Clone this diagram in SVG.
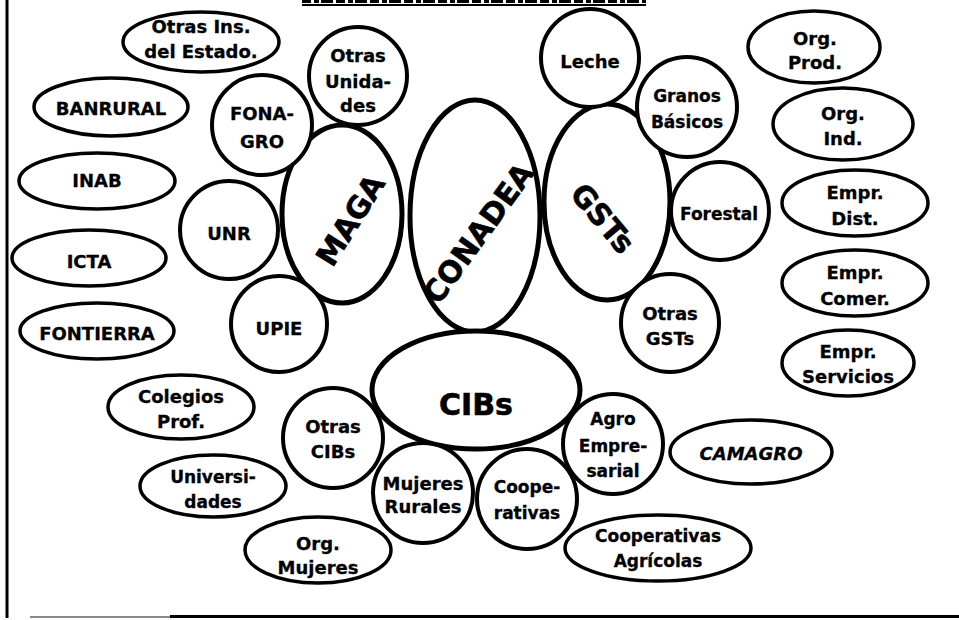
<svg xmlns="http://www.w3.org/2000/svg" width="959" height="620" viewBox="0 0 959 620">
<style>
.main{fill:#fff;stroke:#000;stroke-width:5}
.c{fill:#fff;stroke:#000;stroke-width:4}
.o{fill:#fff;stroke:#000;stroke-width:3.5}
text{font-family:"DejaVu Sans","Liberation Sans",sans-serif;font-weight:bold;fill:#000;text-anchor:middle;stroke:#000;stroke-width:0.3}
.t{font-size:18px}
.s{font-size:17px}
.big{font-size:30px;stroke-width:0.6}
</style>
<rect width="959" height="620" fill="#fff"/>
<g id="frame">
<line x1="7" y1="0" x2="7" y2="618" stroke="#000" stroke-width="3"/>
<line x1="30" y1="617" x2="170" y2="617" stroke="#888" stroke-width="2"/>
<line x1="170" y1="616.5" x2="959" y2="616.5" stroke="#000" stroke-width="3"/>
<line x1="302" y1="1.5" x2="646" y2="1.5" stroke="#000" stroke-width="3" stroke-dasharray="9 3 5 2 12 3"/>
<line x1="302" y1="5" x2="646" y2="5" stroke="#000" stroke-width="2"/>
</g>
<g id="connectors"/>
<g id="conadea"><ellipse class="main" cx="475" cy="216" rx="65" ry="116"/>
<text class="big" transform="translate(478,233) rotate(-54)" x="0" y="11">CONADEA</text></g>
<g id="maga"><ellipse class="main" cx="342" cy="214" rx="60" ry="89"/>
<text class="big" transform="translate(350,220) rotate(-58)" x="0" y="11">MAGA</text></g>
<g id="gsts"><ellipse class="main" cx="607" cy="202" rx="63" ry="98"/>
<text class="big" transform="translate(603,218) rotate(50)" x="0" y="11">GSTs</text></g>
<g id="cibs"><ellipse class="main" cx="476" cy="390" rx="104" ry="59"/>
<text class="big" x="476" y="415">CIBs</text></g>
<g id="otras-unidades"><circle class="c" cx="358" cy="76" r="49"/>
<text class="t" x="358" y="62">Otras</text><text class="t" x="358" y="88">Unida-</text><text class="t" x="358" y="112">des</text></g>
<g id="fonagro"><circle class="c" cx="262" cy="125" r="50"/>
<text class="t" x="262" y="120" font-size="19">FONA-</text><text class="t" x="262" y="148" font-size="19">GRO</text></g>
<g id="unr"><circle class="c" cx="229" cy="230" r="49"/>
<text class="t" x="229" y="240">UNR</text></g>
<g id="upie"><circle class="c" cx="279" cy="324" r="48"/>
<text class="t" x="279" y="335">UPIE</text></g>
<g id="leche"><circle class="c" cx="590" cy="58" r="49"/>
<text class="t" x="590" y="68">Leche</text></g>
<g id="granos"><circle class="c" cx="687" cy="107" r="50"/>
<text class="s" x="687" y="102">Granos</text><text class="s" x="687" y="128">Básicos</text></g>
<g id="forestal"><circle class="c" cx="720" cy="211" r="49"/>
<text class="s" x="719" y="220">Forestal</text></g>
<g id="otras-gsts"><circle class="c" cx="670" cy="323" r="49"/>
<text class="t" x="670" y="320">Otras</text><text class="t" x="670" y="345">GSTs</text></g>
<g id="otras-cibs"><circle class="c" cx="333" cy="438" r="50"/>
<text class="t" x="333" y="433">Otras</text><text class="t" x="333" y="458">CIBs</text></g>
<g id="mujeres-rurales"><circle class="c" cx="423" cy="493" r="50"/>
<text class="t" x="423" y="490">Mujeres</text><text class="t" x="423" y="513">Rurales</text></g>
<g id="cooperativas"><circle class="c" cx="527" cy="499" r="50"/>
<text class="s" x="527" y="493">Coope-</text><text class="s" x="527" y="519">rativas</text></g>
<g id="agro-empresarial"><circle class="c" cx="613" cy="444" r="50"/>
<text class="s" x="613" y="425">Agro</text><text class="s" x="613" y="452">Empre-</text><text class="s" x="613" y="477">sarial</text></g>
<g id="otras-ins"><ellipse class="o" cx="201" cy="42" rx="78" ry="30"/>
<text class="t" x="201" y="33">Otras Ins.</text><text class="t" x="201" y="58">del Estado.</text></g>
<g id="banrural"><ellipse class="o" cx="111" cy="107" rx="77" ry="29"/>
<text class="t" x="111" y="115" font-size="18.5">BANRURAL</text></g>
<g id="inab"><ellipse class="o" cx="97" cy="181" rx="78" ry="28"/>
<text class="t" x="97" y="187">INAB</text></g>
<g id="icta"><ellipse class="o" cx="89" cy="258" rx="77" ry="28"/>
<text class="t" x="89" y="268">ICTA</text></g>
<g id="fontierra"><ellipse class="o" cx="97" cy="331" rx="77" ry="28"/>
<text class="t" x="97" y="340" font-size="19.5">FONTIERRA</text></g>
<g id="colegios"><ellipse class="o" cx="181" cy="407" rx="73" ry="32"/>
<text class="t" x="181" y="403">Colegios</text><text class="t" x="181" y="428">Prof.</text></g>
<g id="universidades"><ellipse class="o" cx="213" cy="486" rx="73" ry="31"/>
<text class="s" x="213" y="483">Universi-</text><text class="s" x="213" y="508">dades</text></g>
<g id="org-mujeres"><ellipse class="o" cx="318" cy="550" rx="73" ry="33"/>
<text class="t" x="318" y="550">Org.</text><text class="t" x="318" y="574">Mujeres</text></g>
<g id="org-prod"><ellipse class="o" cx="814" cy="47" rx="66" ry="36"/>
<text class="t" x="815" y="45">Org.</text><text class="t" x="815" y="69">Prod.</text></g>
<g id="org-ind"><ellipse class="o" cx="843" cy="124" rx="70" ry="36"/>
<text class="t" x="843" y="120">Org.</text><text class="t" x="843" y="145">Ind.</text></g>
<g id="empr-dist"><ellipse class="o" cx="855" cy="203" rx="73" ry="33"/>
<text class="t" x="855" y="199">Empr.</text><text class="t" x="855" y="225">Dist.</text></g>
<g id="empr-comer"><ellipse class="o" cx="855" cy="283" rx="73" ry="33"/>
<text class="t" x="855" y="279">Empr.</text><text class="t" x="855" y="305">Comer.</text></g>
<g id="empr-servicios"><ellipse class="o" cx="848" cy="363" rx="66" ry="33"/>
<text class="t" x="848" y="358">Empr.</text><text class="t" x="848" y="383">Servicios</text></g>
<g id="camagro"><ellipse class="o" cx="751" cy="452" rx="81" ry="32"/>
<text class="t" x="751" y="460" font-size="18.5" font-style="italic">CAMAGRO</text></g>
<g id="coop-agricolas"><ellipse class="o" cx="658" cy="548" rx="93" ry="33"/>
<text class="s" x="658" y="542">Cooperativas</text><text class="s" x="658" y="567">Agrícolas</text></g>
</svg>
